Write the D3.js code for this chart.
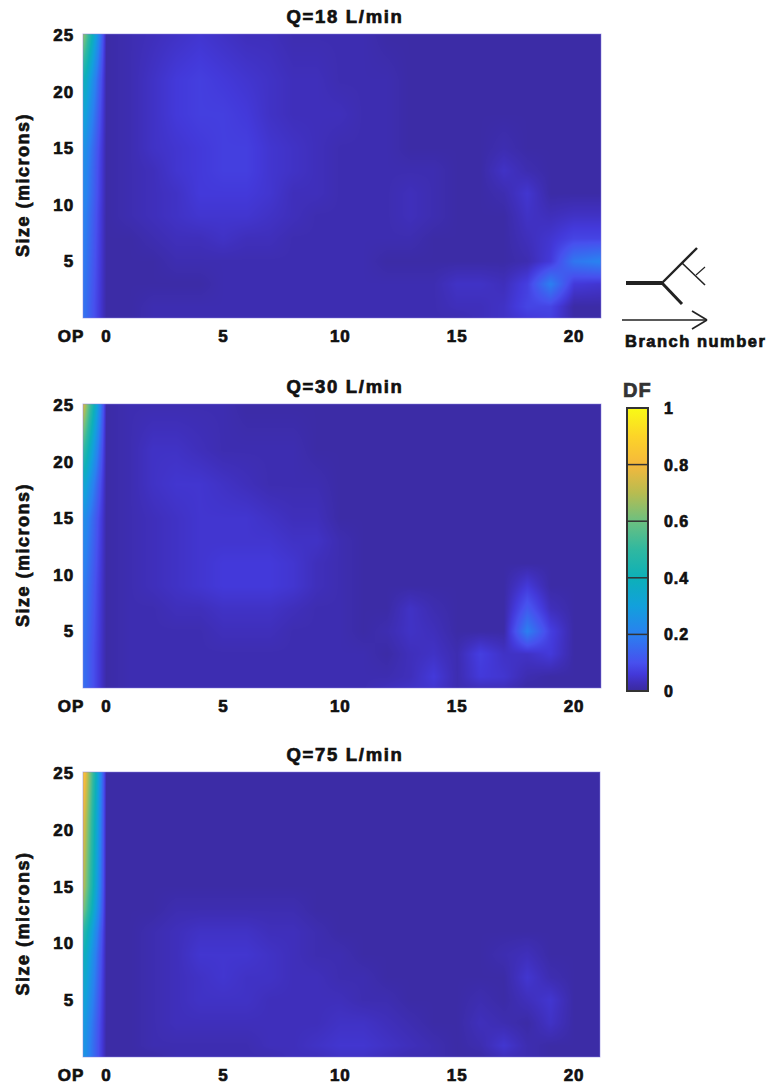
<!DOCTYPE html>
<html><head><meta charset="utf-8">
<script src="https://cdnjs.cloudflare.com/ajax/libs/d3/7.8.5/d3.min.js"></script>
<style>html,body{margin:0;padding:0;background:#fff}svg{display:block}text{font-family:"Liberation Sans",Arial,sans-serif;font-weight:700;fill:#111;stroke:#111;stroke-width:.7px}</style>
</head><body><svg id="c" width="770" height="1084"></svg>
<script>
const branches=[-1,0,1,2,3,4,5,6,7,8,9,10,11,12,13,14,15,16,17,18,19,20,21.15];
const sizes=[25,21,18,15,13,11,9,7,5,3,1,0];
const titles=["Q=18 L/min","Q=30 L/min","Q=75 L/min"];
const xTickValues=[0,5,10,15,20];
const yTickValues=[5,10,15,20,25];
const dfTicks=[0,0.2,0.4,0.6,0.8,1];
const dfStops=[0,0.03,0.06,0.1,0.2,0.3,0.4,0.5,0.6,0.7,0.8,0.9,1];
const dfColors=["#3a2a9c","#3f2fbb","#4339da","#4750ee","#2a80f0","#12a0dc","#0db0b8","#30b8a0","#6cc080","#b8bc50","#f5b83c","#fcd428","#f9fb15"];
// values in hundredths of DF, rows = sizes, columns = branches
const panel18=[
[66,1,2,3,4,5,4,3,3,2,2,2,2,1,1,1,1,1,1,1,1,1,1],
[42,1,2,4,6,7,6,5,4,3,3,2,2,2,1,1,1,1,1,1,1,1,1],
[34,1,2,4,6,7,7,6,4,3,3,3,2,2,1,1,1,1,1,1,1,1,1],
[27,1,2,4,5,6,7,7,5,4,3,2,2,2,1,1,1,1,2,1,1,1,1],
[25,1,2,3,5,6,7,7,5,4,3,2,2,2,2,2,1,1,4,2,1,1,1],
[24,1,2,3,4,6,6,6,5,3,3,2,2,2,3,2,1,1,2,5,1,1,1],
[22,1,2,3,4,5,5,5,4,3,2,2,2,2,3,2,1,1,1,4,3,4,4],
[21,1,1,2,3,3,4,3,3,2,2,2,2,2,2,1,1,1,1,3,5,8,8],
[20,1,1,1,2,2,2,2,2,2,2,2,2,1,1,1,1,1,1,2,6,18,21],
[19,1,1,1,1,1,2,2,2,2,2,2,2,2,2,2,4,4,3,7,20,6,5],
[18,1,1,2,2,2,2,2,2,2,2,2,2,2,2,2,3,3,4,8,8,1,1],
[18,1,1,2,2,2,2,2,2,2,2,2,2,2,2,2,2,3,4,6,7,1,1]];
const panel30=[
[76,1,2,2,2,2,2,1,1,1,1,1,1,1,1,1,1,1,1,1,1,1,1],
[52,1,2,4,4,3,2,2,2,2,1,1,1,1,1,1,1,1,1,1,1,1,1],
[36,1,2,4,5,5,4,3,2,2,2,1,1,1,1,1,1,1,1,1,1,1,1],
[26,1,2,3,4,5,5,5,4,3,3,1,1,1,1,1,1,1,1,1,1,1,1],
[24,1,2,3,4,5,5,5,5,4,4,2,1,1,1,1,1,1,1,1,1,1,1],
[22,1,2,3,4,5,6,6,6,5,3,2,1,1,1,1,1,1,1,1,1,1,1],
[20,1,2,3,4,5,6,6,6,5,3,2,1,1,1,1,1,1,1,6,1,1,1],
[19,1,2,2,3,3,4,4,4,3,2,2,1,1,4,2,1,1,1,12,3,1,1],
[18,1,2,2,2,2,3,3,3,2,2,2,1,2,4,3,1,1,1,20,7,1,1],
[17,1,2,2,2,2,2,2,2,2,2,2,2,1,3,4,2,7,4,4,6,1,1],
[17,1,2,2,2,2,2,2,2,2,2,2,2,2,3,6,2,6,5,2,1,1,1],
[17,1,2,2,2,2,2,2,2,2,2,2,2,3,4,5,2,3,3,1,1,1,1]];
const panel75=[
[88,1,1,1,1,1,1,1,1,1,1,1,1,1,1,1,1,1,1,1,1,1,1],
[80,1,1,1,1,1,1,1,1,1,1,1,1,1,1,1,1,1,1,1,1,1,1],
[76,1,1,1,1,1,1,1,1,1,1,1,1,1,1,1,1,1,1,1,1,1,1],
[72,1,1,1,1,1,1,1,1,1,1,1,1,1,1,1,1,1,1,1,1,1,1],
[64,1,1,1,2,2,2,2,2,2,1,1,1,1,1,1,1,1,1,1,1,1,1],
[50,1,1,2,3,4,4,4,3,3,2,1,1,1,1,1,1,1,1,1,1,1,1],
[42,1,1,2,3,5,5,5,4,3,2,2,1,1,1,1,1,1,2,3,1,1,1],
[38,1,1,2,3,4,5,4,4,3,3,2,2,1,1,1,1,1,1,5,2,1,1],
[34,1,1,2,3,4,4,4,3,3,3,3,2,2,1,1,1,2,1,3,5,1,1],
[30,1,1,2,3,3,3,3,3,3,3,4,4,3,2,1,1,3,2,1,4,1,1],
[28,1,1,2,2,2,2,2,3,3,4,5,5,4,3,2,1,2,5,2,1,1,1],
[28,1,1,1,2,2,2,2,2,3,3,4,4,3,2,2,1,1,3,2,1,1,1]];
const panels=[
 {title:titles[0],values:panel18,x0:83,x1:601,y0:34,y1:318},
 {title:titles[1],values:panel30,x0:83,x1:601,y0:404,y1:688},
 {title:titles[2],values:panel75,x0:83,x1:600,y0:772,y1:1057}];

const svg=d3.select("#c");
const color=d3.scaleLinear().domain(dfStops).range(dfColors).interpolate(d3.interpolateRgb).clamp(true);
const rowsAsc=sizes.slice().reverse();

function sample(values,b,s){
  const bi=Math.max(Math.min(d3.bisectRight(branches,b)-1,branches.length-2),0);
  const t=(b-branches[bi])/(branches[bi+1]-branches[bi]);
  const j=Math.max(Math.min(d3.bisectRight(rowsAsc,s)-1,rowsAsc.length-2),0);
  const u=(s-rowsAsc[j])/(rowsAsc[j+1]-rowsAsc[j]);
  const rl=values[sizes.length-1-j],rh=values[sizes.length-2-j];
  const a=rl[bi]*(1-t)+rl[bi+1]*t,c=rh[bi]*(1-t)+rh[bi+1]*t;
  return (a*(1-u)+c*u)/100;
}
const tickFont=17, tickSp=0.9;
panels.forEach(p=>{
  const x=d3.scaleLinear().domain([-1,21.15]).range([p.x0,p.x1+(p.x1===600?1:0)]);
  const y=d3.scaleLinear().domain([0,25]).range([p.y1,p.y0+1]);
  const W=p.x1-p.x0,H=p.y1-p.y0;
  const cv=document.createElement("canvas");cv.width=W;cv.height=H;
  const ctx=cv.getContext("2d"),im=ctx.createImageData(W,H);
  for(let py=0;py<H;py++)for(let px=0;px<W;px++){
    const v=sample(p.values,x.invert(p.x0+px+.5),y.invert(p.y0+py+.5));
    const c=d3.rgb(color(v)),k=(py*W+px)*4;
    im.data[k]=c.r;im.data[k+1]=c.g;im.data[k+2]=c.b;im.data[k+3]=255;
  }
  ctx.putImageData(im,0,0);
  const g=svg.append("g");
  g.append("image").attr("x",p.x0).attr("y",p.y0).attr("width",W).attr("height",H).attr("href",cv.toDataURL());
  g.append("rect").attr("x",p.x0).attr("y",p.y0).attr("width",W).attr("height",H).attr("fill","none").attr("stroke","#8a80e0").attr("stroke-opacity",.5).attr("stroke-width",1);
  g.append("text").attr("x",345).attr("y",p.y0-11).attr("text-anchor","middle").attr("font-size",18.5).attr("letter-spacing",1.7).text(p.title);
  g.append("text").attr("transform",`translate(29,${(p.y0+p.y1)/2+9}) rotate(-90)`).attr("text-anchor","middle").attr("font-size",18).attr("letter-spacing",1.5).text("Size (microns)");
  g.selectAll(".yt").data(yTickValues).join("text").attr("x",74).attr("y",d=>y(d)+6).attr("text-anchor","end").attr("font-size",tickFont).attr("letter-spacing",tickSp).text(d=>d);
  g.selectAll(".xt").data(xTickValues).join("text").attr("x",d=>x(d)).attr("y",p.y1+24).attr("text-anchor","middle").attr("font-size",tickFont).attr("letter-spacing",tickSp).text(d=>d);
  g.append("text").attr("x",71).attr("y",p.y1+24).attr("text-anchor","middle").attr("font-size",tickFont).attr("letter-spacing",tickSp).text("OP");
});

// colour bar
const cbY=d3.scaleLinear().domain([0,1]).range([691,408]);
const defs=svg.append("defs");
const grad=defs.append("linearGradient").attr("id","cb").attr("x1",0).attr("x2",0).attr("y1",1).attr("y2",0);
grad.selectAll("stop").data(dfStops).join("stop").attr("offset",d=>d).attr("stop-color",d=>color(d));
svg.append("rect").attr("x",627).attr("y",cbY(1)).attr("width",21).attr("height",cbY(0)-cbY(1)).attr("fill","url(#cb)").attr("stroke","#333").attr("stroke-width",2);
svg.selectAll(".cbl").data(dfTicks.slice(1,-1)).join("line").attr("x1",627).attr("x2",648).attr("y1",d=>cbY(d)).attr("y2",d=>cbY(d)).attr("stroke","#333").attr("stroke-width",1.5);
svg.selectAll(".cbt").data(dfTicks).join("text").attr("x",664).attr("y",d=>cbY(d)+6).attr("font-size",tickFont-1).attr("letter-spacing",tickSp).text(d=>d);
svg.append("text").attr("x",623).attr("y",397).attr("font-size",20).attr("letter-spacing",1).style("fill","#333").style("stroke","#333").text("DF");

// branching icon
const icon=[[626,283,662,283,4],[662,283,697,248,2.4],[662,283,682,304,3],[682,263,705,285,1.6],[696,275,705,267,1.2],[622,320,707,320,1.6],[692,311,707,320,1.6],[692,329,707,320,1.6]];
svg.selectAll(".ic").data(icon).join("line").attr("x1",d=>d[0]).attr("y1",d=>d[1]).attr("x2",d=>d[2]).attr("y2",d=>d[3]).attr("stroke","#222").attr("stroke-width",d=>d[4]);
svg.append("text").attr("x",625).attr("y",347).attr("font-size",16.5).attr("letter-spacing",1.5).text("Branch number");
</script></body></html>
